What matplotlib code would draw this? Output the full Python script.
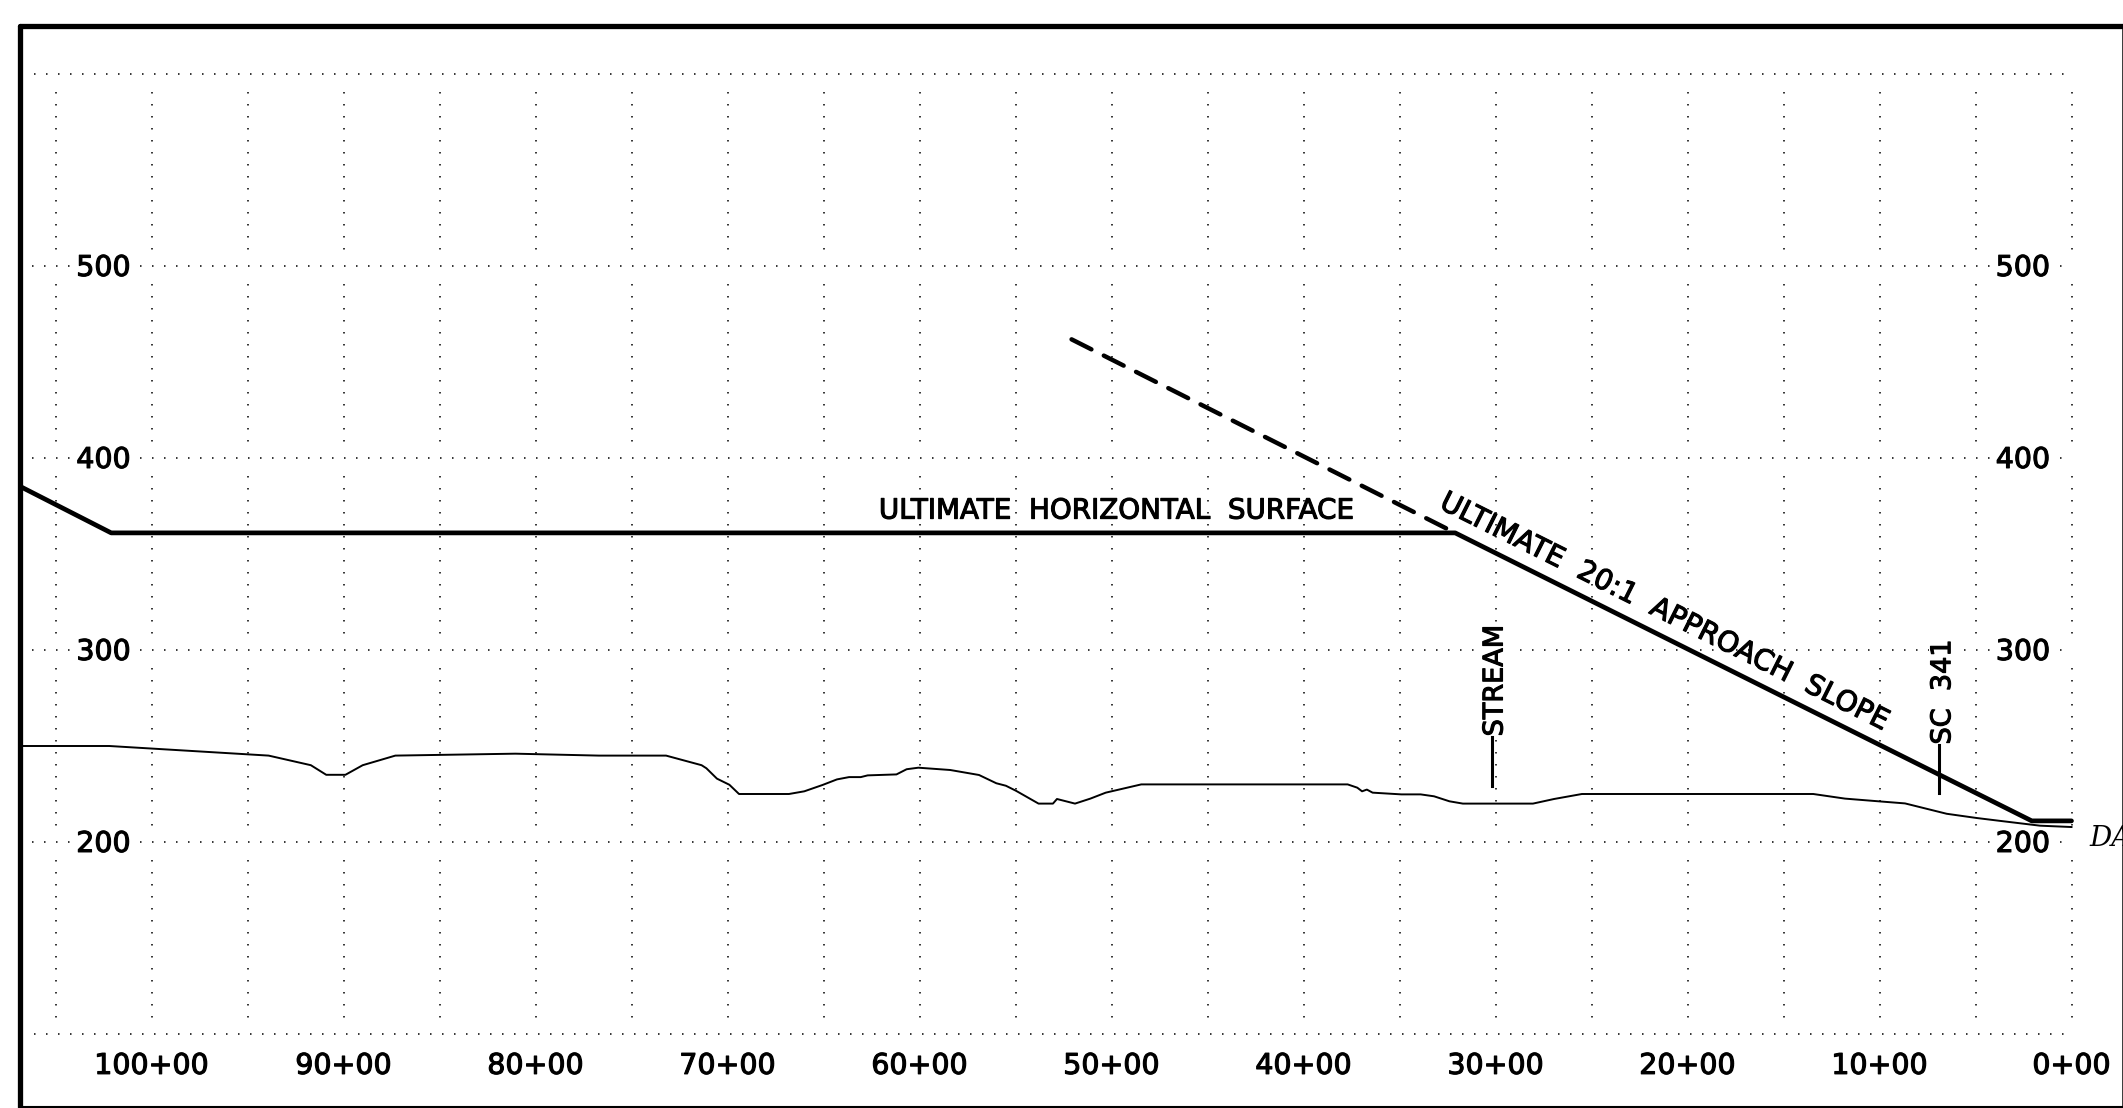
"""
Airport approach profile: ground line, ultimate surfaces and clearance labels.
Writes out.png
"""

import matplotlib

matplotlib.use("Agg")
import matplotlib.patheffects as pe
import matplotlib.pyplot as plt

plt.rcParams["lines.scale_dashes"] = False
plt.rcParams["font.family"] = "DejaVu Sans"

# ---- data (station in 100 ft, elevation in ft)
station_ticks = [100, 90, 80, 70, 60, 50, 40, 30, 20, 10, 0]
station_labels = ["100+00", "90+00", "80+00", "70+00", "60+00", "50+00",
                  "40+00", "30+00", "20+00", "10+00", "0+00"]
grid_stations = [105, 100, 95, 90, 85, 80, 75, 70, 65, 60, 55, 50,
                 45, 40, 35, 30, 25, 20, 15, 10, 5, 0]
grid_elevations = [600, 500, 400, 300, 200, 100]
elev_labels = [500, 400, 300, 200]

ground_sta = [106.9, 102.2, 93.9, 91.7, 90.9, 89.9, 89.0, 87.3, 81.05, 76.7, 73.2,
              71.35, 71.1, 70.55, 69.9, 69.4, 66.8, 66.0, 65.05, 64.3, 63.67, 63.06,
              62.7, 61.2, 60.67, 60.06, 58.4, 56.9, 56.0, 55.5, 54.96, 53.8, 53.05,
              52.84, 51.9, 51.1, 50.3, 48.45, 37.7, 37.2, 36.95, 36.7, 36.4, 34.9,
              33.9, 33.2, 32.4, 31.7, 28.05, 26.95, 25.5, 13.45, 11.8, 10.06, 8.67,
              6.5, 4.94, 3.72, 1.64, 0.0]
ground_elev = [250, 250, 245, 240, 235, 235, 240, 245, 246, 245, 245,
               240, 238.4, 233, 229.8, 225, 225, 226.4, 229.7, 232.6, 233.8, 233.8,
               234.7, 235.2, 237.9, 238.7, 237.5, 234.9, 230.6, 229.3, 226.6, 220, 220,
               222.4, 220, 222.6, 225.7, 230, 230, 228.3, 226.4, 227.3, 225.7, 224.8,
               224.8, 223.8, 221.2, 220, 220, 222.4, 225, 225, 222.6, 221.2, 220.1,
               214.7, 212.5, 211, 208.5, 207.8]

surface_sta = [107.0, 102.1, 32.1, 2.07, 0.0]
surface_elev = [386, 361, 361, 211, 211]
dashed_sta = [52.08, 32.1]
dashed_elev = [461.8, 361]

stream_sta, stream_elev = [30.2, 30.2], [254.7, 229]
sc341_sta, sc341_elev = [6.88, 6.88], [250.5, 225.4]

fig = plt.figure(figsize=(21.23, 11.08), dpi=100)
ax = fig.add_axes([19.5 / 2123, 1 - 1106.5 / 1108, (2122.5 - 19.5) / 2123, (1106.5 - 25.5) / 1108])
ax.set_xlim(106.875, -2.656)
ax.set_ylim(62.24, 625.26)
ax.set_xticks([])
ax.set_yticks([])
ax.spines["left"].set_linewidth(3.8)
ax.spines["top"].set_linewidth(3.8)
ax.spines["right"].set_linewidth(1.8)
ax.spines["bottom"].set_linewidth(1.5)
for side in ("left", "top"):
    ax.spines[side].set_capstyle("round")

# ---- dotted grid, 12 px period
dot = (0, (1.1, 7.54))
for e in grid_elevations:
    start = 106.1 if e in (600, 100) else 106.87
    ax.plot([start, 0], [e, e], color="k", lw=1.1, ls=dot, dash_capstyle="butt", zorder=1)
for s in grid_stations:
    for top, bottom in zip(grid_elevations[:-1], grid_elevations[1:]):
        ax.plot([s, s], [top - 9.4, bottom + 3], color="k", lw=1.1, ls=dot,
                dash_capstyle="butt", zorder=1)

# ---- profile lines
ax.plot(ground_sta, ground_elev, color="k", lw=1.4, zorder=3)
ax.plot(surface_sta, surface_elev, color="k", lw=3.4, solid_capstyle="round",
        solid_joinstyle="round", zorder=4)
ax.plot(dashed_sta, dashed_elev, color="k", lw=3.2, ls=(0, (16, 10)),
        dash_capstyle="round", zorder=4)
ax.plot(stream_sta, stream_elev, color="k", lw=2.2, zorder=4)
ax.plot(sc341_sta, sc341_elev, color="k", lw=2.2, zorder=4)

# ---- labels, stroked a little to get the heavier CAD pen weight
heavy = [pe.withStroke(linewidth=0.8, foreground="k")]
mask = dict(facecolor="white", edgecolor="none", pad=1.0)
for s, lab in zip(station_ticks, station_labels):
    ax.text(s, 83.4, lab, fontsize=20.5, ha="center", va="center", path_effects=heavy, zorder=5)
for e in elev_labels:
    ax.text(102.5, e - 1.0, str(e), fontsize=20.5, ha="center", va="center", bbox=mask,
            path_effects=heavy, zorder=2)
    ax.text(2.53, e - 1.0, str(e), fontsize=20.5, ha="center", va="center", bbox=mask,
            path_effects=heavy, zorder=2)

ax.text(49.75, 372.6, "ULTIMATE  HORIZONTAL  SURFACE", fontsize=20, ha="center",
        va="center", path_effects=heavy, zorder=5)
ax.text(21.2, 319.8, "ULTIMATE  20:1  APPROACH  SLOPE", fontsize=20.4, rotation=-26.57,
        ha="center", va="center", rotation_mode="anchor", path_effects=heavy, zorder=5)
ax.text(30.0, 255.0, "STREAM", fontsize=19.5, rotation=90, ha="center", va="bottom",
        bbox=mask, path_effects=heavy, zorder=2)
ax.text(6.68, 250.8, "SC  341", fontsize=19.5, rotation=90, ha="center", va="bottom",
        bbox=mask, path_effects=heavy, zorder=2)
ax.text(-0.94, 197.8, "DA", fontsize=20, family="DejaVu Serif", style="italic",
        ha="left", va="baseline", clip_on=False, zorder=5)

fig.savefig("out.png", dpi=100)
